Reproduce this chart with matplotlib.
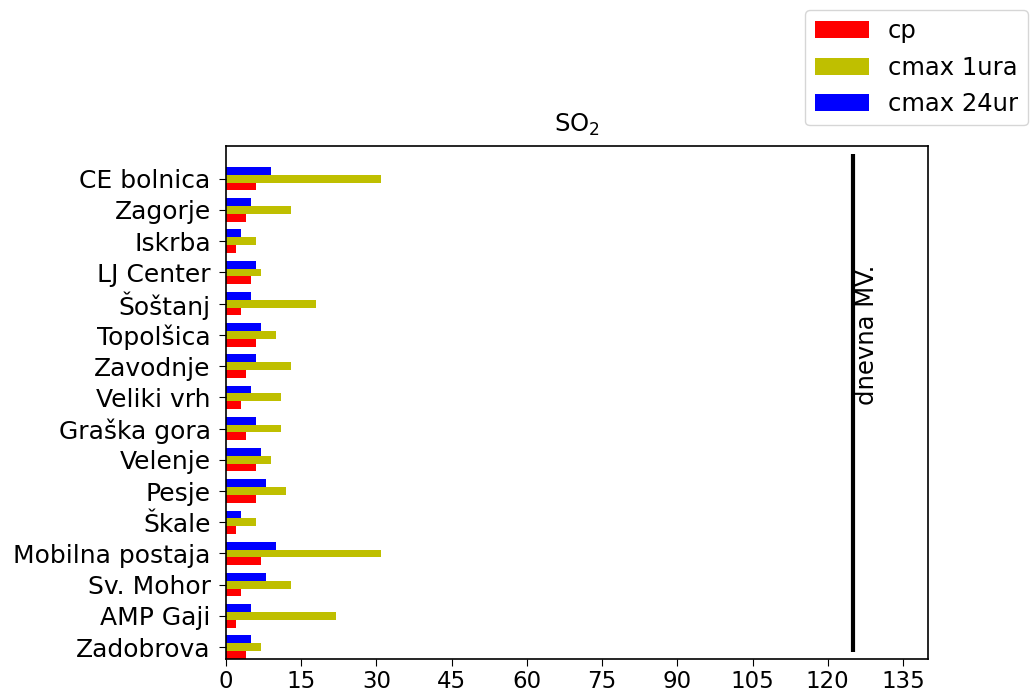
import matplotlib
matplotlib.use("Agg")
import matplotlib.pyplot as plt
import numpy as np
from matplotlib.ticker import MultipleLocator

# Stations, top to bottom as shown
stations = ["CE bolnica", "Zagorje", "Iskrba", "LJ Center", "Šoštanj",
            "Topolšica", "Zavodnje", "Veliki vrh", "Graška gora", "Velenje",
            "Pesje", "Škale", "Mobilna postaja", "Sv. Mohor", "AMP Gaji",
            "Zadobrova"]
cp = [6, 4, 2, 5, 3, 6, 4, 3, 4, 6, 6, 2, 7, 3, 2, 4]
cmax_1ura = [31, 13, 6, 7, 18, 10, 13, 11, 11, 9, 12, 6, 31, 13, 22, 7]
cmax_24ur = [9, 5, 3, 6, 5, 7, 6, 5, 6, 7, 8, 3, 10, 8, 5, 5]
limit_daily = 125

FS = 17.5

fig = plt.figure(figsize=(10.3, 6.95), dpi=100)
ax = fig.add_axes([0.2194, 0.0518, 0.6816, 0.7382])

y = np.arange(len(stations))[::-1]
h = 0.25
ax.barh(y - h, cp, height=h, color='red', label='cp')
ax.barh(y, cmax_1ura, height=h, color='#bfbf00', label='cmax 1ura')
ax.barh(y + h, cmax_24ur, height=h, color='blue', label='cmax 24ur')

ax.vlines(limit_daily, -0.15, 15.8, color='black', linewidth=3)
ax.text(limit_daily + 0.4, 10.0, "dnevna MV.", rotation=90,
        ha='left', va='center', fontsize=FS)

ax.set_yticks(y)
ax.set_yticklabels(stations, fontsize=18)
ax.set_xlim(0, 140)
ax.set_ylim(-0.38, 16.05)
ax.xaxis.set_major_locator(MultipleLocator(15))
ax.tick_params(axis='x', labelsize=16.5, length=5, pad=3)
ax.tick_params(axis='y', length=5, pad=6)
for s in ax.spines.values():
    s.set_linewidth(1.2)
ax.set_title("SO$_2$", fontsize=FS, pad=10)

fig.legend(loc='upper right', bbox_to_anchor=(0.998, 0.986), fontsize=FS,
           handlelength=2.2, borderaxespad=0)

plt.savefig("out.png", dpi=100)
